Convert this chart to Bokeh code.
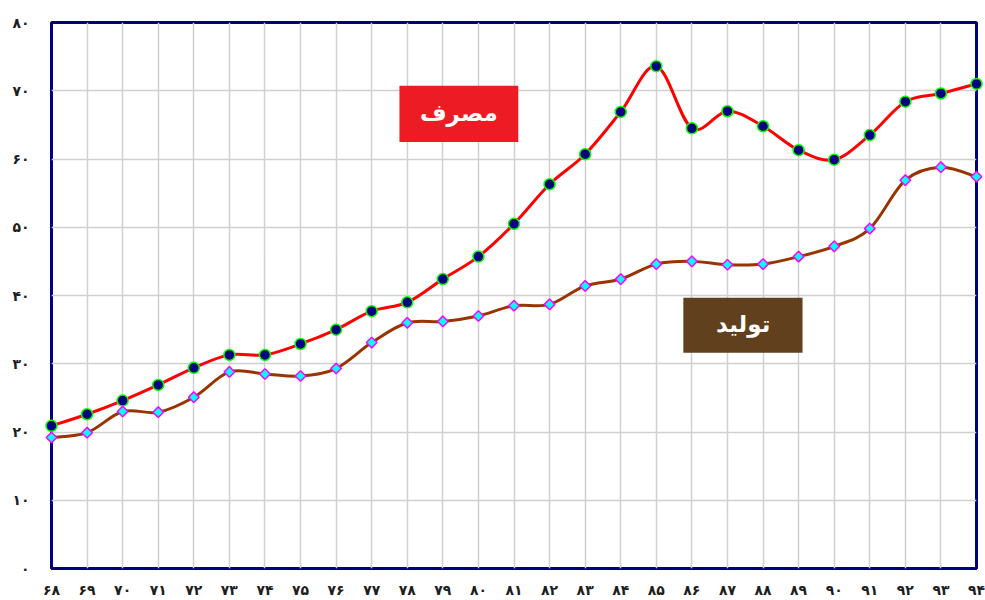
from bokeh.plotting import figure
from bokeh.models import Range1d, FixedTicker, BoxAnnotation, Label, ColumnDataSource
from bokeh.embed import file_html
from bokeh.resources import INLINE
import math

# ---- data ----
years = [68, 69, 70, 71, 72, 73, 74, 75, 76, 77, 78, 79, 80, 81, 82, 83, 84,
         85, 86, 87, 88, 89, 90, 91, 92, 93, 94]
year_labels = ["۶۸", "۶۹", "۷۰", "۷۱", "۷۲", "۷۳", "۷۴", "۷۵", "۷۶", "۷۷", "۷۸",
               "۷۹", "۸۰", "۸۱", "۸۲", "۸۳", "۸۴", "۸۵", "۸۶", "۸۷", "۸۸", "۸۹",
               "۹۰", "۹۱", "۹۲", "۹۳", "۹۴"]
consumption = [20.9, 22.6, 24.6, 26.9, 29.4, 31.3, 31.3, 32.9, 35.0, 37.7, 39.0,
               42.4, 45.7, 50.5, 56.3, 60.7, 66.9, 73.6, 64.5, 67.0, 64.8, 61.3,
               59.9, 63.5, 68.4, 69.6, 71.0]
production = [19.2, 19.9, 23.0, 22.9, 25.1, 28.8, 28.5, 28.2, 29.3, 33.1, 36.0,
              36.2, 37.0, 38.5, 38.7, 41.4, 42.4, 44.6, 45.0, 44.5, 44.6, 45.7,
              47.2, 49.8, 56.9, 58.8, 57.4]
y_ticks = [0, 10, 20, 30, 40, 50, 60, 70, 80]
y_tick_labels = ["۰", "۱۰", "۲۰", "۳۰", "۴۰", "۵۰", "۶۰", "۷۰", "۸۰"]
series_names = ["مصرف", "تولید"]

FONT = "DejaVu Sans"


def smooth_segments(xs, ys):
    """Bezier control points (Catmull-Rom style smoothing, as in spreadsheet charts)."""
    n = len(xs)
    d = dict(x0=[], y0=[], x1=[], y1=[], cx0=[], cy0=[], cx1=[], cy1=[])
    for i in range(n - 1):
        a = max(i - 1, 0)
        b = min(i + 2, n - 1)
        d["x0"].append(xs[i]); d["y0"].append(ys[i])
        d["x1"].append(xs[i + 1]); d["y1"].append(ys[i + 1])
        d["cx0"].append(xs[i] + (xs[i + 1] - xs[a]) / 6.0)
        d["cy0"].append(ys[i] + (ys[i + 1] - ys[a]) / 6.0)
        d["cx1"].append(xs[i + 1] - (xs[b] - xs[i]) / 6.0)
        d["cy1"].append(ys[i + 1] - (ys[b] - ys[i]) / 6.0)
    return ColumnDataSource(d)


p = figure(width=985, height=600, output_backend="svg", toolbar_location=None,
           x_range=Range1d(years[0], years[-1]), y_range=Range1d(y_ticks[0], y_ticks[-1]),
           min_border_left=51, min_border_right=9, min_border_top=22, min_border_bottom=32)

p.background_fill_color = "white"
p.border_fill_color = "white"
p.outline_line_color = "#000080"
p.outline_line_width = 3
p.outline_line_alpha = 1

# grid
p.xgrid.ticker = FixedTicker(ticks=years)
p.ygrid.ticker = FixedTicker(ticks=y_ticks)
for g in (p.xgrid, p.ygrid):
    g.grid_line_color = "#d0d0d0"
    g.grid_line_width = 1.5

# axes
p.xaxis.ticker = FixedTicker(ticks=years)
p.xaxis.major_label_overrides = {y: l for y, l in zip(years, year_labels)}
p.yaxis.ticker = FixedTicker(ticks=y_ticks)
p.yaxis.major_label_overrides = {v: l for v, l in zip(y_ticks, y_tick_labels)}
for ax in (p.xaxis, p.yaxis):
    ax.axis_line_color = None
    ax.major_tick_line_color = None
    ax.minor_tick_line_color = None
    ax.major_tick_out = 0
    ax.major_tick_in = 0
    ax.minor_tick_out = 0
    ax.minor_tick_in = 0
    ax.major_label_text_font = FONT
    ax.major_label_text_font_style = "bold"
    ax.major_label_text_font_size = "14px"
    ax.major_label_text_color = "#1e1e1e"
p.xaxis.major_label_standoff = 13
p.yaxis.major_label_standoff = 22

# smoothed lines
p.bezier(x0="x0", y0="y0", x1="x1", y1="y1", cx0="cx0", cy0="cy0", cx1="cx1", cy1="cy1",
         source=smooth_segments(years, consumption), line_color="#ff0000", line_width=3)
p.bezier(x0="x0", y0="y0", x1="x1", y1="y1", cx0="cx0", cy0="cy0", cx1="cx1", cy1="cy1",
         source=smooth_segments(years, production), line_color="#993300", line_width=3)

# markers
p.scatter(years, consumption, marker="circle", size=11, fill_color="#000080",
          line_color="#00ff00", line_width=1.5, level="overlay")
p.scatter(years, production, marker="square", size=7.5, angle=math.pi / 4,
          fill_color="#00ffff", line_color="#ff00ff", line_width=1.5, level="overlay")

# series labels (boxes)
p.add_layout(BoxAnnotation(left=77.78, right=81.12, top=70.75, bottom=62.5,
                           fill_color="#ed1c24", fill_alpha=1, line_color=None))
p.add_layout(Label(x=79.45, y=66.8, text=series_names[0], text_color="white",
                   text_font=FONT, text_font_style="bold", text_font_size="23px",
                   text_align="center", text_baseline="middle"))
p.add_layout(BoxAnnotation(left=85.76, right=89.11, top=39.66, bottom=31.6,
                           fill_color="#60401d", fill_alpha=1, line_color=None))
p.add_layout(Label(x=87.44, y=35.8, text=series_names[1], text_color="white",
                   text_font=FONT, text_font_style="bold", text_font_size="23px",
                   text_align="center", text_baseline="middle"))

open("out.html", "w").write(file_html(p, INLINE))
